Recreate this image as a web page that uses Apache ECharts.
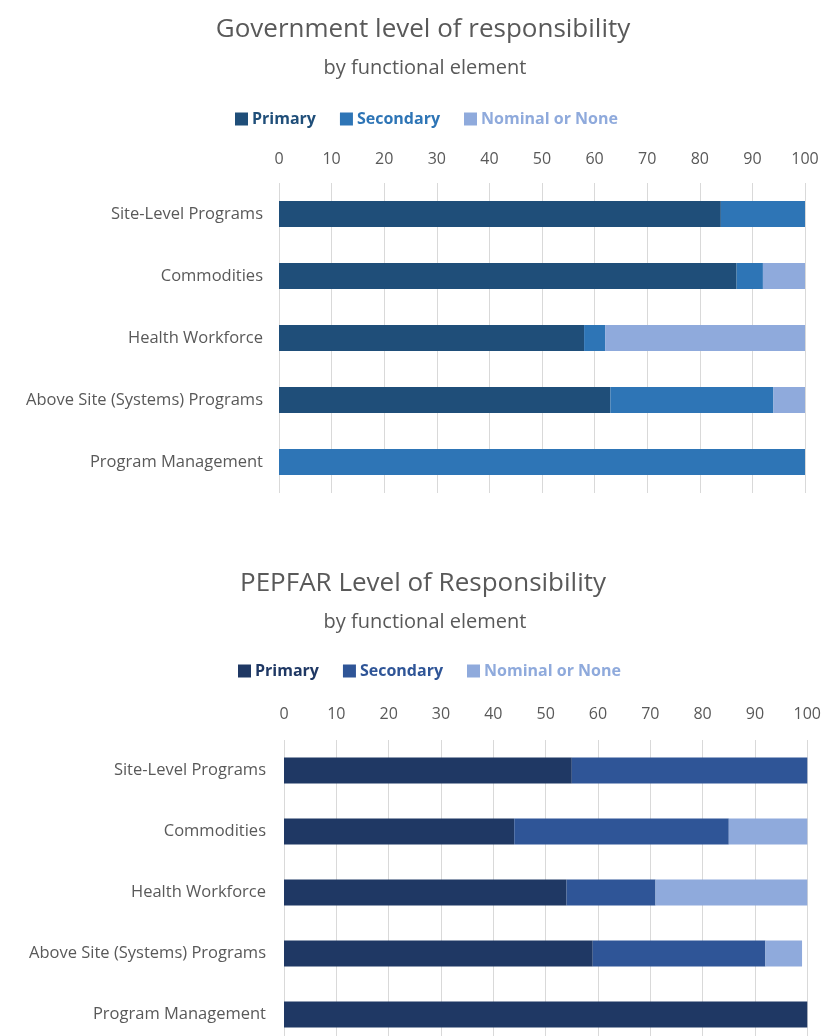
<!DOCTYPE html>
<html>
<head>
<meta charset="utf-8">
<script src="https://cdn.jsdelivr.net/npm/echarts@6/dist/echarts.min.js"></script>
<style>
html,body{margin:0;padding:0;background:#fff;overflow:hidden;}
#c1{position:absolute;left:0;top:0;width:824px;height:540px;}
#c2{position:absolute;left:0;top:540px;width:824px;height:540px;}
</style>
</head>
<body>
<div id="c1"></div>
<div id="c2"></div>
<script>
const categories = ["Site-Level Programs","Commodities","Health Workforce","Above Site (Systems) Programs","Program Management"];
const seriesNames = ["Primary","Secondary","Nominal or None"];
const xTicks = [0,10,20,30,40,50,60,70,80,90,100];

const govPrimary   = [84, 87, 58, 63, 0];
const govSecondary = [16, 5, 4, 31, 100];
const govNominal   = [0, 8, 38, 6, 0];

const pepPrimary   = [55, 44, 54, 59, 100];
const pepSecondary = [45, 41, 17, 33, 0];
const pepNominal   = [0, 15, 29, 7, 0];

const govColors = ["#1f4e79","#2e75b6","#8faadc"];
const pepColors = ["#1f3864","#2f5597","#8faadc"];

const FONT = "Open Sans";

function build(opt){
  const series = [opt.primary, opt.secondary, opt.nominal].map((d,i)=>({
    name: seriesNames[i], type:'bar', stack:'total', data:d, barWidth: 26,
    itemStyle:{color: opt.colors[i]}, emphasis:{disabled:true}
  }));
  return {
    animation:false,
    textStyle:{fontFamily:FONT},
    title:[
      {text: opt.title, left:418, textAlign:'center', top: opt.titleTop,
       textStyle:{fontFamily:FONT, fontSize:26, fontWeight:'normal', color:'#595959'}},
      {text: 'by functional element', left:420, textAlign:'center', top: opt.titleTop+41,
       textStyle:{fontFamily:FONT, fontSize:20, fontWeight:'normal', color:'#595959'}}
    ],
    legend:{
      top: opt.legendTop, left: opt.legendLeft, itemWidth:13, itemHeight:13, itemGap:24,
      icon:'rect', selectedMode:false,
      data: seriesNames.map((n,i)=>({name:n, textStyle:{color: opt.colors[i]}})),
      textStyle:{fontFamily:FONT, fontSize:16, fontWeight:'bold', padding:[0,0,0,-1]}
    },
    grid:{left: opt.gridLeft, right: opt.gridRight, top: opt.gridTop, height: opt.gridHeight, containLabel:false},
    xAxis:{
      type:'value', position:'top', min:0, max:100, interval:10,
      axisLine:{show:false}, axisTick:{show:false},
      axisLabel:{fontFamily:FONT, fontSize:16, color:'#595959', margin: opt.tickMargin,
        formatter: v => xTicks.includes(v) ? String(v) : ''},
      splitLine:{show:true, lineStyle:{color:'#d9d9d9', width:1}}
    },
    yAxis:{
      type:'category', data: categories, inverse:true,
      axisLine:{show:false}, axisTick:{show:false},
      axisLabel:{fontFamily:FONT, fontSize:16.5, color:'#595959', margin: opt.labelMargin}
    },
    series
  };
}

const c1 = echarts.init(document.getElementById('c1'), null, {renderer:'canvas'});
c1.setOption(build({
  title:'Government level of responsibility', titleTop:12, legendTop:106, legendLeft:230,
  gridLeft:279, gridRight:19, gridTop:183, gridHeight:310, labelMargin:16, tickMargin:16,
  primary:govPrimary, secondary:govSecondary, nominal:govNominal, colors:govColors
}));

const c2 = echarts.init(document.getElementById('c2'), null, {renderer:'canvas'});
c2.setOption(build({
  title:'PEPFAR Level of Responsibility', titleTop:26, legendTop:118, legendLeft:233,
  gridLeft:284, gridRight:16, gridTop:200, gridHeight:305, labelMargin:18, tickMargin:18,
  primary:pepPrimary, secondary:pepSecondary, nominal:pepNominal, colors:pepColors
}));
</script>
</body>
</html>
